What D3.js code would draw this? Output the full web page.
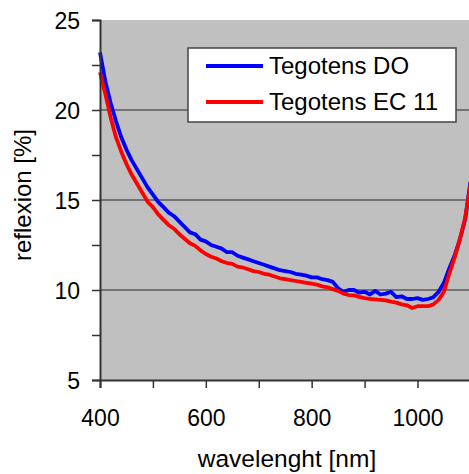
<!DOCTYPE html>
<html>
<head>
<meta charset="utf-8">
<script src="https://cdn.jsdelivr.net/npm/d3@7"></script>
<style>
  body { margin: 0; background: #fff; }
  text { font-family: "Liberation Sans", Arial, sans-serif; fill: #000; }
</style>
</head>
<body>
<svg width="469" height="474"></svg>
<script>
let width = 469, height = 474;

// wavelength grid (nm)
let wavelengths = d3.range(400, 1101, 10);

// Tegotens DO (blue)
let seriesDO = [
  23.2, 21.6, 20.4, 19.4, 18.5, 17.8, 17.2, 16.7, 16.2, 15.7,
  15.3, 14.9, 14.6, 14.3, 14.1, 13.8, 13.5, 13.2, 13.1, 12.8,
  12.7, 12.5, 12.4, 12.3, 12.1, 12.1, 11.9, 11.8, 11.7, 11.6,
  11.5, 11.4, 11.3, 11.2, 11.1, 11.05, 11.0, 10.9, 10.85, 10.8,
  10.7, 10.7, 10.6, 10.55, 10.45, 10.1, 9.9, 10.0, 10.0, 9.85,
  9.9, 9.75, 9.95, 9.75, 9.8, 9.9, 9.6, 9.65, 9.5, 9.5,
  9.55, 9.45, 9.5, 9.6, 9.9, 10.4, 11.2, 11.9, 12.8, 13.9,
  16.0
];

// Tegotens EC 11 (red)
let seriesEC = [
  22.1, 20.9, 19.6, 18.5, 17.7, 17.0, 16.4, 15.9, 15.4, 14.9,
  14.6, 14.2, 13.9, 13.6, 13.4, 13.1, 12.85, 12.6, 12.45, 12.2,
  12.0, 11.85, 11.75, 11.6, 11.5, 11.45, 11.3, 11.25, 11.15, 11.05,
  11.0, 10.9, 10.85, 10.75, 10.65, 10.6, 10.55, 10.5, 10.45, 10.4,
  10.35, 10.3, 10.2, 10.15, 10.05, 9.95, 9.8, 9.72, 9.7, 9.62,
  9.55, 9.5, 9.48, 9.45, 9.42, 9.35, 9.3, 9.2, 9.15, 9.0,
  9.1, 9.1, 9.1, 9.2, 9.45, 9.9, 10.9, 11.8, 12.8, 14.0,
  15.8
];

let seriesNames = ["Tegotens DO", "Tegotens EC 11"];
let seriesColors = ["#0000ff", "#ff0000"];
let xTicks = [400, 600, 800, 1000];
let yTicks = [5, 10, 15, 20, 25];

let svg = d3.select("svg")
    .attr("viewBox", "0 0 " + width + " " + height);

let x = d3.scaleLinear().domain([400, 1100]).range([100, 470.4]);
let y = d3.scaleLinear().domain([5, 25]).range([380, 20]);

// plot area
svg.append("rect")
    .attr("x", x(400)).attr("y", y(25))
    .attr("width", x(1100) - x(400)).attr("height", y(5) - y(25))
    .attr("fill", "#c0c0c0");

// gridlines
svg.append("g")
    .selectAll("line")
    .data([10, 15, 20])
    .enter()
    .append("line")
    .attr("x1", x(400)).attr("x2", x(1100))
    .attr("y1", d => y(d)).attr("y2", d => y(d))
    .attr("stroke", "#5a5a5a")
    .attr("stroke-width", 1.5);

// series
let series = [seriesDO, seriesEC];
let line = d3.line()
    .x((d, i) => x(wavelengths[i]))
    .y(d => y(d));

svg.append("g")
    .selectAll("path")
    .data(series)
    .enter()
    .append("path")
    .attr("d", d => line(d))
    .attr("fill", "none")
    .attr("stroke", (d, i) => seriesColors[i])
    .attr("stroke-width", 3.8)
    .attr("stroke-linejoin", "round");

// axes
let yAxis = d3.axisLeft(y)
    .tickValues(d3.range(5, 25.1, 2.5))
    .tickSize(8)
    .tickFormat(d => yTicks.includes(d) ? d : "");
let gy = svg.append("g")
    .attr("transform", "translate(" + x(400) + ",0)")
    .call(yAxis);

let xAxis = d3.axisBottom(x)
    .tickValues(d3.range(400, 1101, 100))
    .tickSize(8)
    .tickFormat(d => xTicks.includes(d) ? d : "");
let gx = svg.append("g")
    .attr("transform", "translate(0," + y(5) + ")")
    .call(xAxis);

[gx, gy].forEach(g => {
  g.select(".domain").attr("stroke", "#333").attr("stroke-width", 2);
  g.selectAll(".tick line").attr("stroke", "#333").attr("stroke-width", 1.5);
  g.selectAll("text").style("font-size", "23px").attr("fill", "#000");
});
gy.selectAll("text").attr("x", -20).attr("dy", "0.35em");
gx.selectAll("text").attr("y", 0).attr("dy", 0)
    .attr("transform", "translate(0,46)");

// axis titles
svg.append("text")
    .attr("x", 287).attr("y", 467)
    .attr("text-anchor", "middle")
    .style("font-size", "24.5px")
    .text("wavelenght [nm]");

svg.append("text")
    .attr("transform", "translate(31,195) rotate(-90)")
    .attr("text-anchor", "middle")
    .style("font-size", "24px")
    .text("reflexion [%]");

// legend
let legend = svg.append("g");
legend.append("rect")
    .attr("x", 188).attr("y", 48)
    .attr("width", 268).attr("height", 74)
    .attr("fill", "#fff")
    .attr("stroke", "#444")
    .attr("stroke-width", 1.5);

let items = legend.selectAll("g.item")
    .data(seriesNames)
    .enter()
    .append("g")
    .attr("class", "item")
    .attr("transform", (d, i) => "translate(0," + (66 + i * 36) + ")");
items.append("line")
    .attr("x1", 206).attr("x2", 263)
    .attr("stroke", (d, i) => seriesColors[i])
    .attr("stroke-width", 4);
items.append("text")
    .attr("x", 269).attr("y", 7.5)
    .style("font-size", "24px")
    .text(d => d);
</script>
</body>
</html>
